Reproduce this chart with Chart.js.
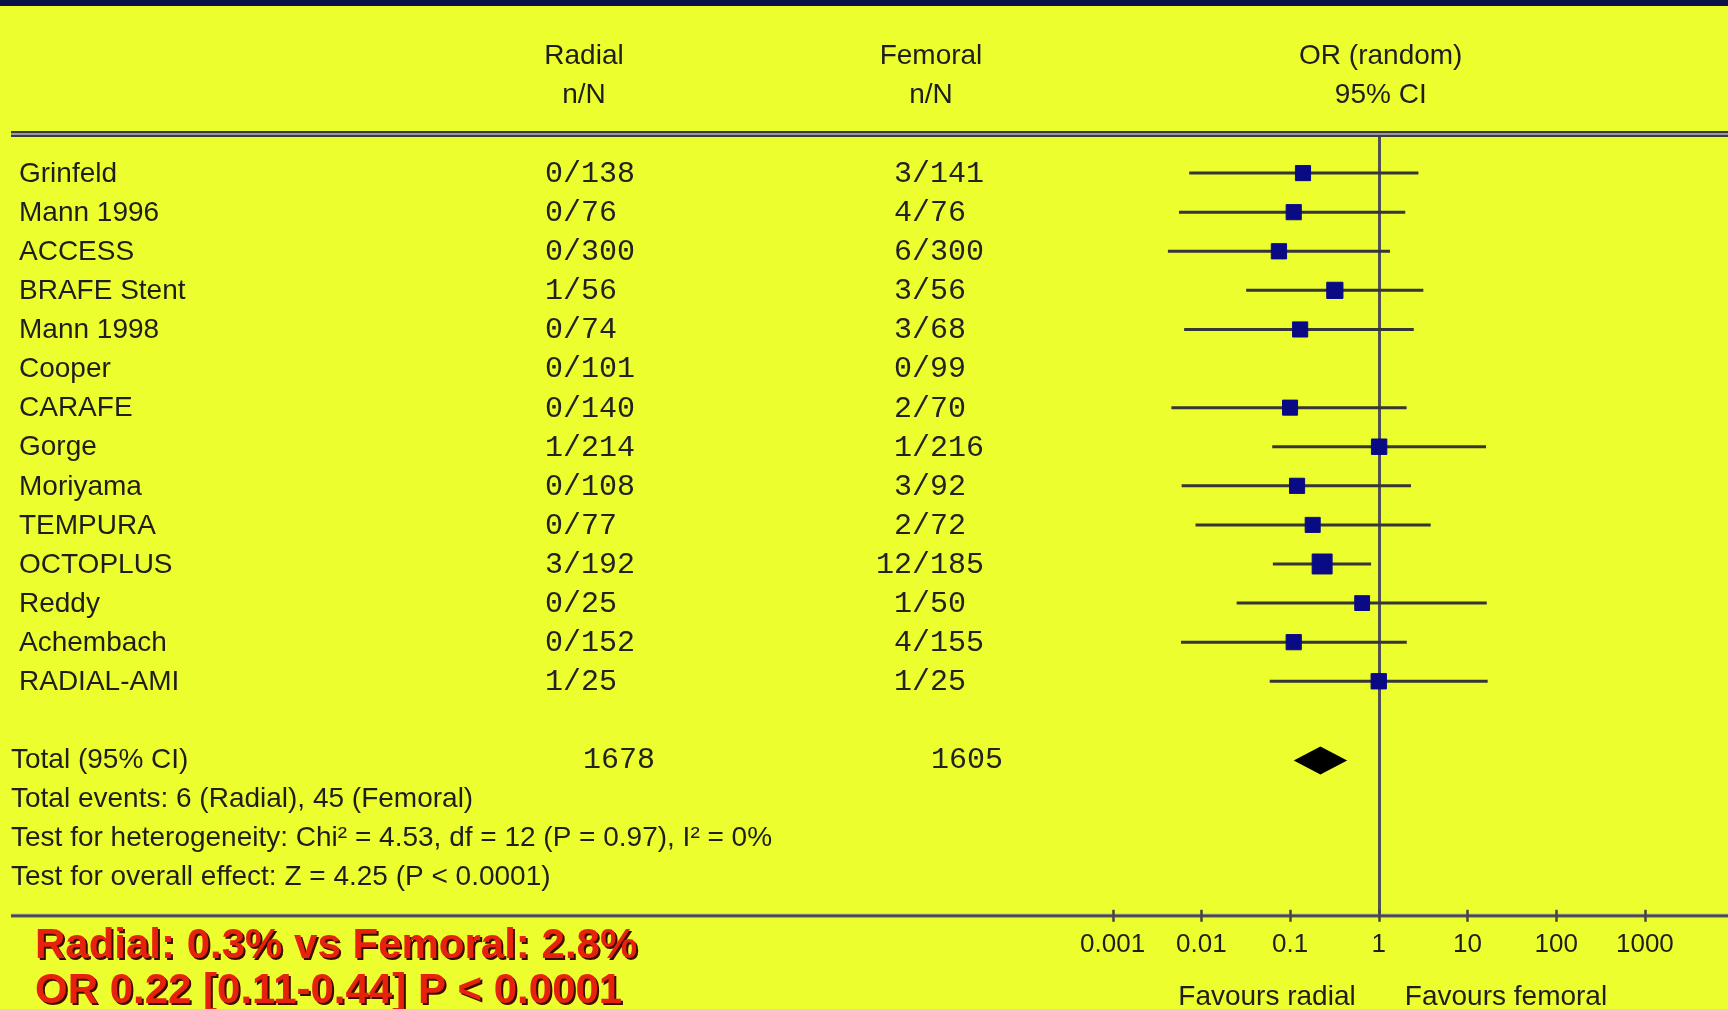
<!DOCTYPE html>
<html>
<head>
<meta charset="utf-8">
<title>Radial vs femoral access – forest plot</title>
<script src="https://cdn.jsdelivr.net/npm/chart.js@4.4.1/dist/chart.umd.min.js"></script>
<style>
  html, body { margin: 0; padding: 0; background: #ecfe2e; overflow: hidden; }
  canvas { display: block; }
</style>
</head>
<body>
<canvas id="forest" width="1728" height="1009"></canvas>
<script>
// ---- Study data ----
const studies = ['Grinfeld', 'Mann 1996', 'ACCESS', 'BRAFE Stent', 'Mann 1998', 'Cooper', 'CARAFE',
  'Gorge', 'Moriyama', 'TEMPURA', 'OCTOPLUS', 'Reddy', 'Achembach', 'RADIAL-AMI'];
const radialEvents   = [0, 0, 0, 1, 0, 0, 0, 1, 0, 0, 3, 0, 0, 1];
const radialTotals   = [138, 76, 300, 56, 74, 101, 140, 214, 108, 77, 192, 25, 152, 25];
const femoralEvents  = [3, 4, 6, 3, 3, 0, 2, 1, 3, 2, 12, 1, 4, 1];
const femoralTotals  = [141, 76, 300, 56, 68, 99, 70, 216, 92, 72, 185, 50, 155, 25];
// Odds ratios with 95% CI (Cooper: no events in either arm, not estimable)
const oddsRatios = [0.14, 0.11, 0.075, 0.32, 0.13, null, 0.10, 1.01, 0.12, 0.18, 0.23, 0.65, 0.11, 1.00];
const ciLower    = [0.0073, 0.0056, 0.0042, 0.032, 0.0064, null, 0.0046, 0.063, 0.0060, 0.0086, 0.064, 0.025, 0.0059, 0.059];
const ciUpper    = [2.80, 1.99, 1.34, 3.18, 2.48, null, 2.06, 16.2, 2.31, 3.85, 0.82, 16.5, 2.07, 16.9];
const weights    = [5.5, 5.6, 5.9, 9.2, 5.5, null, 5.2, 6.3, 5.5, 5.2, 29.6, 4.6, 5.7, 6.1];

// Pooled estimate
const pooled = [0.22, 0.11, 0.44];          // OR, lower, upper
const pooledTotals = [1678, 1605];          // radial N, femoral N
const noEffect = 1;

// Axis
const tickValues = [0.001, 0.01, 0.1, 1, 10, 100, 1000];
const tickLabels = ['0.001', '0.01', '0.1', '1', '10', '100', '1000'];

// Header / footer text
const columnHeads = [['Radial', 'n/N'], ['Femoral', 'n/N'], ['OR (random)', '95% CI']];
const summaryLines = [
  'Total (95% CI)',
  'Total events: 6 (Radial), 45 (Femoral)',
  'Test for heterogeneity: Chi\u00B2 = 4.53, df = 12 (P = 0.97), I\u00B2 = 0%',
  'Test for overall effect: Z = 4.25 (P < 0.0001)'
];
const favourLabels = ['Favours radial', 'Favours femoral'];
const keyResult = ['Radial: 0.3% vs Femoral: 2.8%', 'OR 0.22 [0.11-0.44] P < 0.0001'];

// ---- Styling ----
const SANS = '"Liberation Sans", Arial, Helvetica, sans-serif';
const MONO = '"Liberation Mono", "Courier New", monospace';
const TEXT = '#1e1e1e';
const POOLED_ROW = studies.length + 1;      // one blank row after the studies
const LAST_ROW = POOLED_ROW + 4;            // bottom rule

function squareRadius(w) {
  const side = 11.5 + 1.55 * Math.sqrt(w);
  return side / Math.SQRT2;                 // Chart.js 'rect' side = radius * sqrt(2)
}

const ciDatasets = [];
const pointData = [];
studies.forEach((name, i) => {
  if (oddsRatios[i] == null) return;
  ciDatasets.push({
    label: name,
    data: [{ x: ciLower[i], y: i }, { x: ciUpper[i], y: i }],
    showLine: true,
    borderColor: '#363636',
    borderWidth: 3,
    pointRadius: 0,
    order: 2
  });
  pointData.push({ x: oddsRatios[i], y: i, w: weights[i] });
});

const pointDataset = {
  label: 'OR',
  data: pointData,
  pointStyle: 'rect',
  pointRadius: ctx => squareRadius(ctx.raw.w),
  backgroundColor: '#0a0a84',
  borderColor: '#0a0a84',
  borderWidth: 1,
  order: 1
};

function text(ctx, str, x, y, font, align, color) {
  ctx.font = font;
  ctx.textAlign = align || 'left';
  ctx.textBaseline = 'middle';
  ctx.fillStyle = color || TEXT;
  ctx.fillText(str, x, y);
}

// n/N cell aligned on the slash
function fraction(ctx, n, N, slashX, y) {
  ctx.font = '30px ' + MONO;
  ctx.textBaseline = 'middle';
  ctx.fillStyle = '#222222';
  ctx.textAlign = 'right';
  ctx.fillText(String(n), slashX, y);
  ctx.textAlign = 'left';
  ctx.fillText('/' + N, slashX, y);
}

const forestPlugin = {
  id: 'forestTable',
  beforeDraw(chart) {
    const { ctx, width, height } = chart;
    ctx.save();
    ctx.fillStyle = '#ecfe2e';
    ctx.fillRect(0, 0, width, height);
    ctx.fillStyle = '#0b1248';
    ctx.fillRect(0, 0, width, 6);
    ctx.restore();
  },
  beforeDatasetsDraw(chart) {
    const { ctx } = chart;
    const xs = chart.scales.x, ys = chart.scales.y;
    const px = Math.round(xs.getPixelForValue(noEffect)) + 0.5;
    ctx.save();
    ctx.strokeStyle = '#505050';
    ctx.lineWidth = 3;
    ctx.beginPath();
    ctx.moveTo(px, ys.getPixelForValue(-1));
    ctx.lineTo(px, ys.getPixelForValue(LAST_ROW));
    ctx.stroke();
    ctx.restore();
  },
  afterDraw(chart) {
    const { ctx, width } = chart;
    const xs = chart.scales.x, ys = chart.scales.y;
    ctx.save();

    // column headings
    const headX = [584, 931, xs.getPixelForValue(noEffect) + 2];
    columnHeads.forEach((h, k) => {
      text(ctx, h[0], headX[k], ys.getPixelForValue(-3), '28px ' + SANS, 'center');
      text(ctx, h[1], headX[k], ys.getPixelForValue(-2), '28px ' + SANS, 'center');
    });

    // top rule (double)
    const topY = ys.getPixelForValue(-1);
    ctx.fillStyle = '#9a9a9a';
    ctx.fillRect(11, topY - 3, width - 11, 6);
    ctx.fillStyle = '#3c3c3c';
    ctx.fillRect(11, topY - 3, width - 11, 2);
    ctx.fillRect(11, topY + 1, width - 11, 2);

    // study rows
    studies.forEach((name, i) => {
      const y = ys.getPixelForValue(i) + 1;
      text(ctx, name, 19, y, '28px ' + SANS, 'left');
      fraction(ctx, radialEvents[i], radialTotals[i], 563, y);
      fraction(ctx, femoralEvents[i], femoralTotals[i], 912, y);
    });

    // summary lines
    summaryLines.forEach((s, k) => {
      text(ctx, s, 11, ys.getPixelForValue(POOLED_ROW + k) + 1, '28px ' + SANS, 'left');
    });
    const py = ys.getPixelForValue(POOLED_ROW);
    text(ctx, String(pooledTotals[0]), 583, py + 1, '30px ' + MONO, 'left', '#222222');
    text(ctx, String(pooledTotals[1]), 931, py + 1, '30px ' + MONO, 'left', '#222222');

    // pooled diamond
    const dl = xs.getPixelForValue(pooled[1]);
    const dc = xs.getPixelForValue(pooled[0]);
    const dr = xs.getPixelForValue(pooled[2]);
    ctx.fillStyle = '#000000';
    ctx.beginPath();
    ctx.moveTo(dl, py + 1);
    ctx.lineTo(dc, py - 13);
    ctx.lineTo(dr, py + 1);
    ctx.lineTo(dc, py + 15);
    ctx.closePath();
    ctx.fill();

    // bottom rule with tick marks
    const axisY = ys.getPixelForValue(LAST_ROW);
    ctx.fillStyle = '#8f8f8f';
    ctx.fillRect(11, axisY - 2, width - 11, 4);
    ctx.fillStyle = '#444444';
    ctx.fillRect(11, axisY - 1, width - 11, 2);
    ctx.strokeStyle = '#444444';
    ctx.lineWidth = 2.5;
    tickValues.forEach(v => {
      const tx = Math.round(xs.getPixelForValue(v)) + 0.5;
      ctx.beginPath();
      ctx.moveTo(tx, axisY - 6);
      ctx.lineTo(tx, axisY + 6);
      ctx.stroke();
    });

    // favours labels
    text(ctx, favourLabels[0], 1267, 997, '28px ' + SANS, 'center');
    text(ctx, favourLabels[1], 1506, 997, '28px ' + SANS, 'center');

    // key result in red with drop shadow
    ctx.font = 'bold 42px ' + SANS;
    ctx.textAlign = 'left';
    ctx.textBaseline = 'alphabetic';
    const baselines = [958, 1003];
    keyResult.forEach((s, k) => {
      ctx.fillStyle = '#3a0c04';
      ctx.fillText(s, 37, baselines[k] + 2);
      ctx.fillStyle = '#e6220c';
      ctx.fillText(s, 35, baselines[k]);
    });

    ctx.restore();
  }
};

Chart.defaults.font.family = SANS;

new Chart(document.getElementById('forest'), {
  type: 'scatter',
  data: { datasets: [...ciDatasets, pointDataset] },
  options: {
    responsive: false,
    devicePixelRatio: 1,
    animation: false,
    events: [],
    layout: { padding: { left: 1086, right: 21, top: 134, bottom: 36 } },
    plugins: { legend: { display: false }, tooltip: { enabled: false } },
    scales: {
      x: {
        type: 'logarithmic',
        bounds: 'data',
        min: Math.pow(10, -3.3),
        max: Math.pow(10, 3.7),
        grid: { display: false, drawTicks: false },
        border: { display: false },
        afterBuildTicks: scale => {
          scale.ticks = tickValues.map(v => ({ value: v, major: false }));
        },
        ticks: {
          autoSkip: false,
          maxRotation: 0,
          padding: 13,
          color: TEXT,
          font: { size: 26, family: SANS },
          callback: (value, index) => tickLabels[index]
        }
      },
      y: {
        type: 'linear',
        reverse: true,
        min: -1,
        max: LAST_ROW,
        display: false
      }
    }
  },
  plugins: [forestPlugin]
});
</script>
</body>
</html>
